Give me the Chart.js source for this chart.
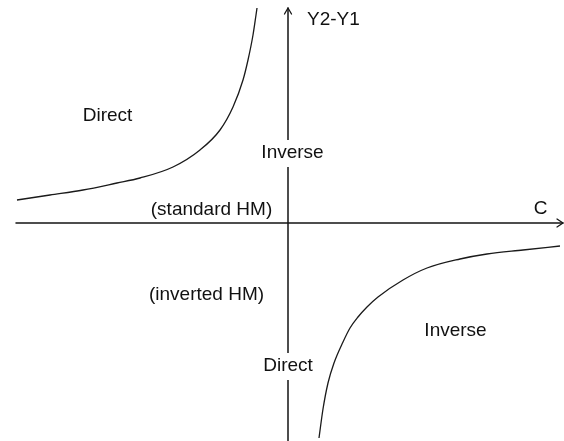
<!DOCTYPE html>
<html>
<head>
<meta charset="utf-8">
<script src="https://cdn.jsdelivr.net/npm/chart.js@4"></script>
<style>
  html, body { margin: 0; padding: 0; background: #fff; }
  #wrap { width: 564px; height: 441px; }
</style>
</head>
<body>
<div id="wrap"><canvas id="c" width="564" height="441"></canvas></div>
<script>
// Upper-left branch (C < 0, Y2-Y1 > 0)
const upperC = [-27.1, -23.8, -20.5, -17.1, -14.8, -11.5, -8.8, -6.8, -5.5, -4.5, -4.0, -3.5, -3.2, -3.1];
const upperY = [2.3, 2.8, 3.3, 4.0, 4.5, 5.6, 7.3, 9.3, 11.6, 14.3, 16.3, 18.8, 20.8, 21.5];
// Lower-right branch (C > 0, Y2-Y1 < 0)
const lowerC = [3.1, 3.5, 4.0, 4.6, 5.5, 6.2, 7.0, 7.9, 9.0, 11.5, 13.9, 17.2, 19.9, 23.5, 27.2];
const lowerY = [-21.5, -18.6, -16.0, -14.0, -11.9, -10.5, -9.4, -8.4, -7.4, -5.7, -4.5, -3.6, -3.1, -2.7, -2.3];

// Axis extents (data units)
const xAxisRange = [-27.2, 27.5];
const yAxisRange = [-21.8, 21.5];
const xAxisTitle = 'C';
const yAxisTitle = 'Y2-Y1';

// Region labels
const labelTexts = ['Direct', 'Inverse', '(standard HM)', '(inverted HM)', 'Direct', 'Inverse'];
const labelX = [-18.05, 0.45, -7.65, -8.15, 0.0, 16.75];
const labelY = [10.7, 7.0, 1.3, -7.2, -14.3, -10.8];
const labelMasked = [false, true, false, false, true, false];

const toPts = (xs, ys) => xs.map((x, i) => ({ x: x, y: ys[i] }));

const INK = '#111';
const FONT = '19px "Liberation Sans", Arial, sans-serif';

const axesPlugin = {
  id: 'axesPlugin',
  beforeDatasetsDraw(chart) {
    const ctx = chart.ctx, xs = chart.scales.x, ys = chart.scales.y;
    const x0 = xs.getPixelForValue(0), y0 = ys.getPixelForValue(0);
    const xl = xs.getPixelForValue(xAxisRange[0]), xr = xs.getPixelForValue(xAxisRange[1]);
    const yt = ys.getPixelForValue(yAxisRange[1]), yb = ys.getPixelForValue(yAxisRange[0]);
    ctx.save();
    ctx.strokeStyle = '#151515';
    ctx.lineWidth = 1.5;
    ctx.lineCap = 'round';
    ctx.lineJoin = 'round';
    ctx.beginPath();
    ctx.moveTo(xl, y0); ctx.lineTo(xr, y0);
    ctx.moveTo(x0, yb); ctx.lineTo(x0, yt);
    ctx.stroke();
    // arrowheads
    ctx.lineWidth = 1.3;
    ctx.beginPath();
    ctx.moveTo(xr - 6, y0 - 4); ctx.lineTo(xr, y0); ctx.lineTo(xr - 6, y0 + 4);
    ctx.moveTo(x0 - 3.5, yt + 6); ctx.lineTo(x0, yt); ctx.lineTo(x0 + 3.5, yt + 6);
    ctx.stroke();
    ctx.restore();
  },
  afterDatasetsDraw(chart) {
    const ctx = chart.ctx, xs = chart.scales.x, ys = chart.scales.y;
    ctx.save();
    ctx.font = FONT;
    ctx.textBaseline = 'middle';
    // axis titles
    ctx.fillStyle = INK;
    ctx.textAlign = 'left';
    ctx.fillText(yAxisTitle, xs.getPixelForValue(1.9), ys.getPixelForValue(20.3));
    ctx.textAlign = 'center';
    ctx.fillText(xAxisTitle, xs.getPixelForValue(25.25), ys.getPixelForValue(1.4));
    // region labels
    labelTexts.forEach((t, i) => {
      const px = xs.getPixelForValue(labelX[i]);
      const py = ys.getPixelForValue(labelY[i]);
      if (labelMasked[i]) {
        const w = ctx.measureText(t).width;
        ctx.fillStyle = '#fff';
        ctx.fillRect(px - w / 2 - 2, py - 13, w + 4, 27);
      }
      ctx.fillStyle = INK;
      ctx.textAlign = 'center';
      ctx.fillText(t, px, py);
    });
    ctx.restore();
  }
};

new Chart(document.getElementById('c'), {
  type: 'scatter',
  data: {
    datasets: [
      { data: toPts(upperC, upperY), showLine: true, borderColor: '#1a1a1a', borderWidth: 1.3,
        pointRadius: 0, cubicInterpolationMode: 'monotone', fill: false },
      { data: toPts(lowerC, lowerY), showLine: true, borderColor: '#1a1a1a', borderWidth: 1.3,
        pointRadius: 0, cubicInterpolationMode: 'monotone', fill: false }
    ]
  },
  options: {
    responsive: false,
    animation: false,
    layout: { padding: 0 },
    plugins: { legend: { display: false }, tooltip: { enabled: false } },
    scales: {
      x: { type: 'linear', min: -28.8, max: 27.6, display: false },
      y: { type: 'linear', min: -21.8, max: 22.3, display: false }
    }
  },
  plugins: [axesPlugin]
});
</script>
</body>
</html>
